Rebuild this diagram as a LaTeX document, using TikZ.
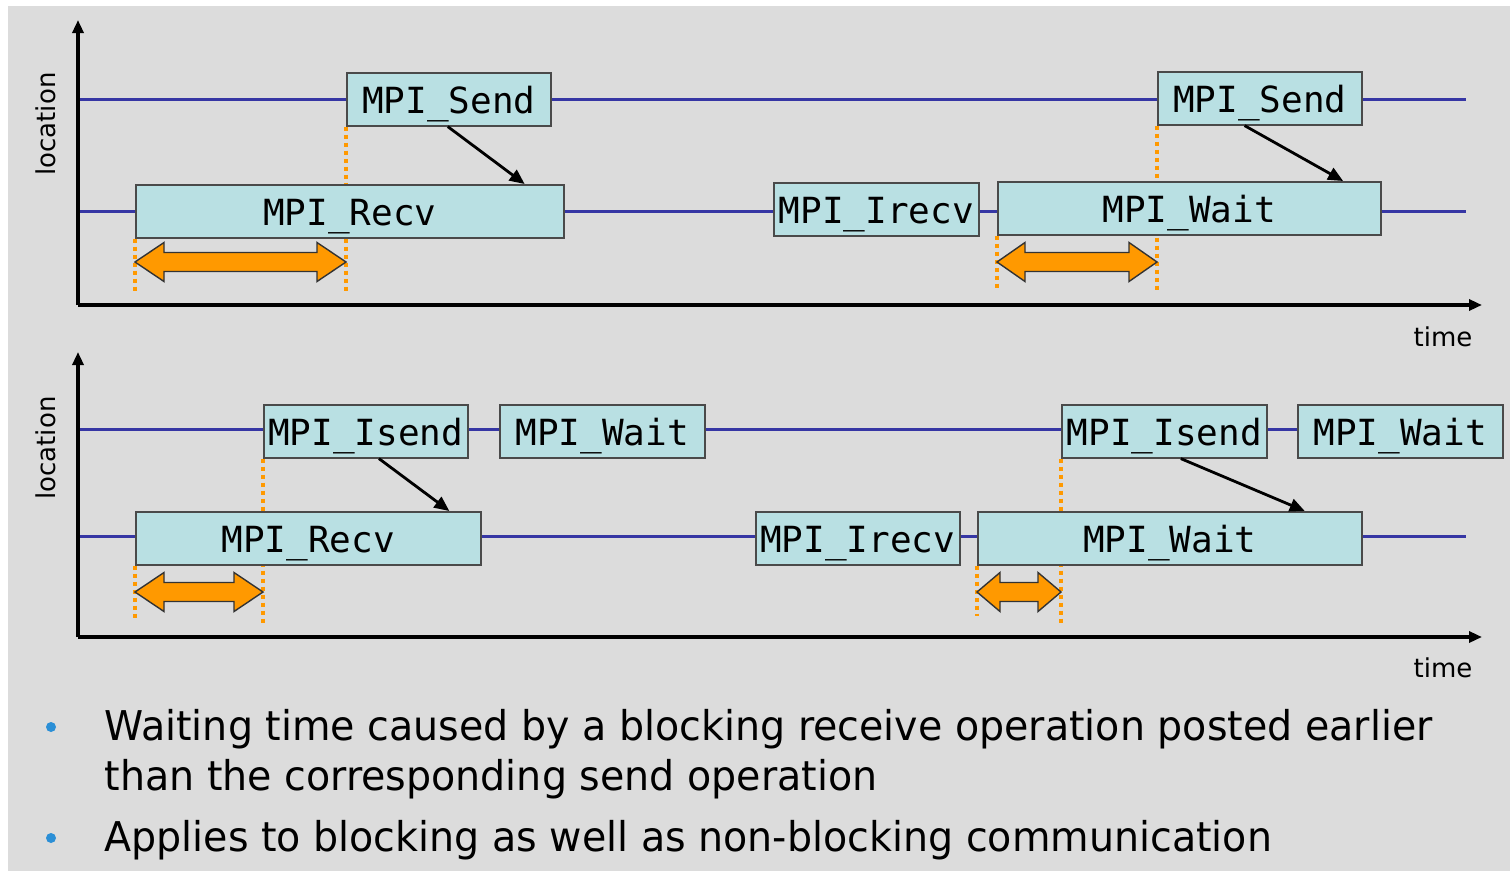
\documentclass[tikz,border=0pt]{standalone}
\usepackage{fontspec}
\setmainfont{DejaVu Sans}
\newfontfamily\callfont{DejaVu Sans Mono}
\newfontfamily\notefont[FakeStretch=0.965]{DejaVu Sans}
\usetikzlibrary{arrows.meta,calc}

\definecolor{panelbg}{HTML}{DCDCDC}
\definecolor{callfill}{HTML}{B9E0E3}
\definecolor{callborder}{HTML}{4A4A4A}
\definecolor{tlinecol}{HTML}{3636A4}
\definecolor{waitcol}{HTML}{FF9900}
\definecolor{bulletcol}{HTML}{2B8FD6}

\pgfdeclarelayer{back}
\pgfsetlayers{back,main}

\tikzset{
  x=1pt, y=-1pt,
  axis/.style={line width=3.2pt, -{Triangle[length=13pt,width=11pt]}},
  timeline/.style={tlinecol, line width=3pt},
  callbox/.style={draw=callborder, line width=1.6pt, fill=callfill,
    inner sep=0pt, minimum height=53pt, anchor=north west,
    text height=28pt, text depth=0pt,
    font=\callfont\fontsize{36}{40}\selectfont},
  msg/.style={line width=2.8pt, -{Triangle[length=15pt,width=13pt]}},
  guide/.style={waitcol, line width=3.2pt, dash pattern=on 4pt off 4pt},
  waitshape/.style={fill=waitcol, draw=black!80, line width=1.4pt, line join=miter},
  axislabel/.style={font=\fontsize{26}{30}\selectfont},
  bullettext/.style={anchor=base west, font=\notefont\fontsize{41}{49}\selectfont},
}

% double-headed waiting-time arrow: left x, right x, centre y, head length
\newcommand\waitarrow[4]{%
  \draw[waitshape] (#1,#3) -- (#1+#4,#3-19.5) -- (#1+#4,#3-9.5) -- (#2-#4,#3-9.5)
    -- (#2-#4,#3-19.5) -- (#2,#3) -- (#2-#4,#3+19.5) -- (#2-#4,#3+9.5)
    -- (#1+#4,#3+9.5) -- (#1+#4,#3+19.5) -- cycle;}

\begin{document}
\begin{tikzpicture}
\useasboundingbox (0,0) rectangle (1510,871);
\begin{pgfonlayer}{back}
\fill[white] (0,0) rectangle (1510,871);
\fill[panelbg] (8,6) rectangle (1510,871);
\end{pgfonlayer}

% ---------------- blocking case ----------------
\coordinate (o1) at (78,305);
\coordinate (yt1) at (78,20);
\coordinate (xt1) at (1482,305);
\coordinate (pa1) at (78,99);
\coordinate (pa1e) at (1466,99);
\coordinate (pb1) at (78,211);
\coordinate (pb1e) at (1466,211);

\node[callbox, minimum width=204pt] (send1) at (346,72) {MPI\_Send};
\node[callbox, minimum width=428pt] (recv1) at (135,184) {MPI\_Recv};
\node[callbox, minimum width=205pt] (irecv1) at (773,182) {MPI\_Irecv};
\node[callbox, minimum width=383pt] (wait1) at (997,181) {MPI\_Wait};
\node[callbox, minimum width=204pt] (send2) at (1157,71) {MPI\_Send};

\begin{pgfonlayer}{back}
\draw[timeline] (pa1) -- (pa1e);
\draw[timeline] (pb1) -- (pb1e);
\draw[guide] (recv1.south west) -- ++(0,52);
\draw[guide] (send1.south west) -- ++(0,164);
\draw[guide] (wait1.south west) -- ++(0,52);
\draw[guide] (send2.south west) -- ++(0,166);
\end{pgfonlayer}

\draw[msg] ($(send1.south west)!0.495!(send1.south east)$) -- ($(recv1.north west)!0.907!(recv1.north east)$);
\draw[msg] ($(send2.south west)!0.426!(send2.south east)$) -- ($(wait1.north west)!0.90!(wait1.north east)$);

\waitarrow{135}{346}{262}{29}
\waitarrow{997}{1157}{262}{28}

\draw[axis] (o1) -- (yt1);
\draw[axis] (o1) -- (xt1);
\node[axislabel, rotate=90] (loc1) at (46,124) {location};
\node[axislabel] (time1) at (1443,337) {time};

% ---------------- non-blocking case ----------------
\coordinate (o2) at (78,637);
\coordinate (yt2) at (78,352);
\coordinate (xt2) at (1482,637);
\coordinate (pa2) at (78,429);
\coordinate (pa2e) at (1300,429);
\coordinate (pb2) at (78,536);
\coordinate (pb2e) at (1466,536);

\node[callbox, minimum width=204pt] (isend1) at (263,404) {MPI\_Isend};
\node[callbox, minimum width=205pt] (wait2) at (499,404) {MPI\_Wait};
\node[callbox, minimum width=345pt] (recv2) at (135,511) {MPI\_Recv};
\node[callbox, minimum width=204pt] (irecv2) at (755,511) {MPI\_Irecv};
\node[callbox, minimum width=384pt] (wait3) at (977,511) {MPI\_Wait};
\node[callbox, minimum width=205pt] (isend2) at (1061,404) {MPI\_Isend};
\node[callbox, minimum width=205pt] (wait4) at (1297,404) {MPI\_Wait};

\begin{pgfonlayer}{back}
\draw[timeline] (pa2) -- (pa2e);
\draw[timeline] (pb2) -- (pb2e);
\draw[guide] (recv2.south west) -- ++(0,55);
\draw[guide] (isend1.south west) -- ++(0,164);
\draw[guide] (wait3.south west) -- ++(0,50);
\draw[guide] (isend2.south west) -- ++(0,164);
\end{pgfonlayer}

\draw[msg] ($(isend1.south west)!0.564!(isend1.south east)$) -- ($(recv2.north west)!0.907!(recv2.north east)$);
\draw[msg] ($(isend2.south west)!0.58!(isend2.south east)$) -- ($(wait3.north west)!0.85!(wait3.north east)$);

\waitarrow{135}{263}{592}{29}
\waitarrow{977}{1061}{592}{23}

\draw[axis] (o2) -- (yt2);
\draw[axis] (o2) -- (xt2);
\node[axislabel, rotate=90] (loc2) at (46,448) {location};
\node[axislabel] (time2) at (1443,668) {time};

% ---------------- remarks ----------------
\fill[bulletcol] (51,727) circle (5pt);
\fill[bulletcol] (51,838) circle (5pt);
\node[bullettext] (l1) at (101,740) {Waiting time caused by a blocking receive operation posted earlier};
\node[bullettext] (l2) at (101,790) {than the corresponding send operation};
\node[bullettext] (l3) at (101,851) {Applies to blocking as well as non-blocking communication};
\end{tikzpicture}
\end{document}
